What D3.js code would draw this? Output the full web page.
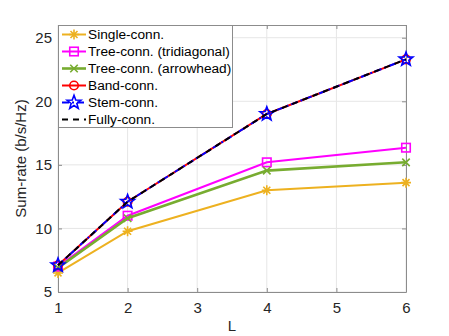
<!DOCTYPE html>
<html><head><meta charset="utf-8">
<script src="https://cdn.jsdelivr.net/npm/d3@7"></script>
<style>body{margin:0;background:#fff}svg{display:block;font-family:"Liberation Sans",Arial,sans-serif}</style>
</head><body><svg id="c" width="449" height="336"></svg>
<script>
const L = [1, 2, 4, 6];
const single = [6.5, 9.78, 13.0, 13.6];
const treeTri = [7.0, 11.0, 15.2, 16.35];
const treeArrow = [6.9, 10.8, 14.55, 15.2];
const band = [7.1, 12.1, 19.0, 23.3];
const stem = [7.1, 12.1, 19.0, 23.3];
const fully = [7.1, 12.1, 19.0, 23.3];
const xTicks = [1, 2, 3, 4, 5, 6];
const yTicks = [5, 10, 15, 20, 25];
const names = ["Single-conn.", "Tree-conn. (tridiagonal)", "Tree-conn. (arrowhead)", "Band-conn.", "Stem-conn.", "Fully-conn."];

const svg = d3.select("#c");
const m = {l: 58, r: 406, t: 25, b: 292};
const x = d3.scaleLinear().domain([1, 6]).range([m.l, m.r]);
const y = d3.scaleLinear().domain([5, 26]).range([m.b, m.t]);

// grid
const g = svg.append("g");
g.selectAll(".gx").data(xTicks).join("line").attr("x1", d => x(d)).attr("x2", d => x(d))
  .attr("y1", m.t).attr("y2", m.b).attr("stroke", "#e6e6e6").attr("stroke-width", 1);
g.selectAll(".gy").data(yTicks).join("line").attr("y1", d => y(d)).attr("y2", d => y(d))
  .attr("x1", m.l).attr("x2", m.r).attr("stroke", "#e6e6e6").attr("stroke-width", 1);

// axes
const ax = svg.append("g").attr("transform", `translate(0,${m.b})`)
  .call(d3.axisBottom(x).tickValues(xTicks).tickSizeInner(-4).tickSizeOuter(0).tickPadding(10).tickFormat(d3.format("d")));
const ay = svg.append("g").attr("transform", `translate(${m.l},0)`)
  .call(d3.axisLeft(y).tickValues(yTicks).tickSizeInner(-4).tickSizeOuter(0).tickPadding(6).tickFormat(d3.format("d")));
const axTop = svg.append("g").attr("transform", `translate(0,${m.t})`)
  .call(d3.axisTop(x).tickValues(xTicks).tickSizeInner(-4).tickSizeOuter(0).tickFormat(""));
const ayR = svg.append("g").attr("transform", `translate(${m.r},0)`)
  .call(d3.axisRight(y).tickValues(yTicks).tickSizeInner(-4).tickSizeOuter(0).tickFormat(""));
[ax, ay, axTop, ayR].forEach(a => {
  a.select(".domain").attr("stroke", "#8c8c8c");
  a.selectAll(".tick line").attr("stroke", "#8c8c8c");
  a.selectAll("text").attr("fill", "#262626").style("font-size", "15px").style("font-family", "Liberation Sans, Arial, sans-serif");
});
svg.append("text").attr("x", (m.l + m.r) / 2).attr("y", 331).attr("text-anchor", "middle")
  .attr("fill", "#262626").style("font-size", "15px").text("L");
svg.append("text").attr("transform", `translate(26,${(m.t + m.b) / 2}) rotate(-90)`).attr("text-anchor", "middle")
  .attr("fill", "#262626").style("font-size", "15px").text("Sum-rate (b/s/Hz)");

// markers
function marker(sel, type, color, s) {
  const gg = sel.append("g");
  const st = {stroke: color, "stroke-width": 1.6, fill: "none"};
  const ap = (e) => { Object.entries(st).forEach(([k, v]) => e.attr(k, v)); return e; };
  if (type === "ast") {
    ap(gg.append("path").attr("d", `M${-s},0H${s}M0,${-s}V${s}M${-s*0.7},${-s*0.7}L${s*0.7},${s*0.7}M${-s*0.7},${s*0.7}L${s*0.7},${-s*0.7}`));
  } else if (type === "sq") {
    ap(gg.append("rect").attr("x", -s*0.85).attr("y", -s*0.85).attr("width", s*1.7).attr("height", s*1.7));
  } else if (type === "x") {
    ap(gg.append("path").attr("d", `M${-s*0.75},${-s*0.75}L${s*0.75},${s*0.75}M${-s*0.75},${s*0.75}L${s*0.75},${-s*0.75}`));
  } else if (type === "o") {
    ap(gg.append("circle").attr("r", s*0.85));
  } else if (type === "star") {
    const pts = [];
    for (let i = 0; i < 10; i++) {
      const r = i % 2 === 0 ? s * 1.45 : s * 0.6;
      const a = -Math.PI / 2 + i * Math.PI / 5;
      pts.push([r * Math.cos(a), r * Math.sin(a)]);
    }
    ap(gg.append("path").attr("d", "M" + pts.map(p => p.join(",")).join("L") + "Z"));
  }
  return gg;
}

const series = [
  {v: single, c: "#EDB120", m: "ast", dash: null, w: 2},
  {v: treeTri, c: "#FF00FF", m: "sq", dash: null, w: 2},
  {v: treeArrow, c: "#77AC30", m: "x", dash: null, w: 2.6},
  {v: band, c: "#FF0000", m: "o", dash: null, w: 2},
  {v: stem, c: "#0000FF", m: "star", dash: "7,3,2,3", w: 2},
  {v: fully, c: "#000000", m: null, dash: "6,5", w: 2}
];
const line = d3.line().x((d, i) => x(L[i])).y(d => y(d));
series.forEach(s => {
  svg.append("path").datum(s.v).attr("d", line).attr("fill", "none").attr("stroke", s.c)
    .attr("stroke-width", s.w).attr("stroke-dasharray", s.dash);
  if (s.m) s.v.forEach((d, i) => marker(svg, s.m, s.c, 5).attr("transform", `translate(${x(L[i])},${y(d)})`));
});

// legend
const lg = svg.append("g");
lg.append("rect").attr("x", 58.5).attr("y", 25.5).attr("width", 174).attr("height", 102)
  .attr("fill", "#fff").attr("stroke", "#8c8c8c").attr("stroke-width", 1);
series.forEach((s, i) => {
  const yy = 34.5 + i * 17;
  lg.append("line").attr("x1", 62).attr("x2", 86).attr("y1", yy).attr("y2", yy).attr("stroke", s.c)
    .attr("stroke-width", s.w).attr("stroke-dasharray", s.dash);
  if (s.m) marker(lg, s.m, s.c, 5).attr("transform", `translate(74,${yy})`);
  lg.append("text").attr("x", 88).attr("y", yy + 4.8).attr("fill", "#000").style("font-size", "13.7px").text(names[i]);
});
</script></body></html>
